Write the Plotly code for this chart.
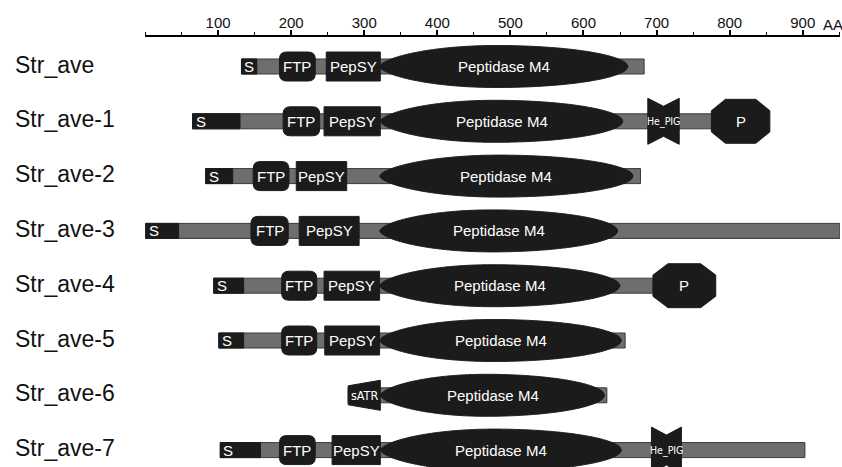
import numpy as np
import plotly.graph_objects as go

# Proteins (one per row) and their domain boundaries, in amino-acid positions
proteins = ["Str_ave", "Str_ave-1", "Str_ave-2", "Str_ave-3",
            "Str_ave-4", "Str_ave-5", "Str_ave-6", "Str_ave-7"]
chain_start = [132, 65, 83, 1, 94, 101, 278, 103]
chain_end = [683, 800, 678, 951, 710, 657, 632, 903]

signal_start = [132, 65, 83, 1, 94, 101, None, 103]
signal_end = [153, 130, 120, 46, 135, 135, None, 158]
ftp_start = [184, 189, 148, 145, 187, 187, None, 184]
ftp_end = [233, 239, 197, 196, 235, 235, None, 233]
pepsy_start = [248, 245, 207, 211, 245, 246, None, 256]
pepsy_end = [322, 322, 276, 293, 321, 321, None, 322]
m4_start = [321, 322, 321, 321, 321, 321, 322, 322]
m4_end = [661, 654, 668, 647, 650, 652, 629, 652]

he_pig_rows = [1, 7]
he_pig_start = [688, 693]
he_pig_end = [731, 734]
p_rows = [1, 4]
p_start = [775, 695]
p_end = [855, 781]
satr_rows = [6]
satr_start = [278]
satr_end = [322]

axis_ticks = [100, 200, 300, 400, 500, 600, 700, 800, 900]

# ---- layout geometry ----
W, H = 842, 467
M_L, M_R, M_T, M_B = 145, 2, 37, 0
X_MAX = 951
ROW_PX = 54.8
FIRST_ROW_PX = 66.5
px_per_aa = (W - M_L - M_R) / X_MAX
y_top = -(FIRST_ROW_PX - M_T) / ROW_PX
y_bot = y_top + (H - M_T - M_B) / ROW_PX


def dx(px):
    return px / px_per_aa


def dy(px):
    return px / ROW_PX


def path(points):
    return "M " + " L ".join(f"{x:.3f},{y:.3f}" for x, y in points) + " Z"


DARK = "#1b1b1b"
GRAY = "#6e6e6e"
EDGE = "#3a3a3a"
FONT = "Liberation Sans, Arial, sans-serif"
NARROW = "Liberation Sans Narrow, DejaVu Sans Condensed, Liberation Sans"

shapes = []
annotations = []


def label(x, y, text, size=15, family=FONT, anchor="center", xshift=0):
    annotations.append(dict(x=x, y=y, xref="x", yref="y", text=text, showarrow=False,
                            xanchor=anchor, yanchor="middle", xshift=xshift,
                            font=dict(family=family, size=size, color="white")))


def rect(x0, x1, r, hpx, fill, line=EDGE, lw=1):
    shapes.append(dict(type="rect", xref="x", yref="y", x0=x0, x1=x1,
                       y0=r - dy(hpx / 2), y1=r + dy(hpx / 2),
                       fillcolor=fill, line=dict(color=line, width=lw), layer="above"))


def rounded(x0, x1, r, hpx, rad_px):
    rx, ry = dx(rad_px), dy(rad_px)
    t, b = r - dy(hpx / 2), r + dy(hpx / 2)
    p = (f"M {x0 + rx},{t} L {x1 - rx},{t} Q {x1},{t} {x1},{t + ry} "
         f"L {x1},{b - ry} Q {x1},{b} {x1 - rx},{b} L {x0 + rx},{b} "
         f"Q {x0},{b} {x0},{b - ry} L {x0},{t + ry} Q {x0},{t} {x0 + rx},{t} Z")
    shapes.append(dict(type="path", xref="x", yref="y", path=p, fillcolor=DARK,
                       line=dict(color=DARK, width=1), layer="above"))


def lens(x0, x1, r, hpx):
    # elongated oval, a little sharper at the N-terminal tip
    u = np.linspace(0, 1, 161)
    peak = 0.47
    half = np.empty_like(u)
    left = u <= peak
    t_l = (peak - u[left]) / peak
    t_r = (u[~left] - peak) / (1 - peak)
    half[left] = (1 - t_l ** 2) ** 0.62
    half[~left] = (1 - t_r ** 2) ** 0.52
    xs = x0 + u * (x1 - x0)
    top = [(x, r - dy(hpx / 2) * h) for x, h in zip(xs, half)]
    bot = [(x, r + dy(hpx / 2) * h) for x, h in zip(xs[::-1], half[::-1])]
    shapes.append(dict(type="path", xref="x", yref="y", path=path(top + bot),
                       fillcolor=DARK, line=dict(color=DARK, width=1), layer="above"))


def notched(x0, x1, r, hpx, notch_px):
    xm = (x0 + x1) / 2
    t, b = r - dy(hpx / 2), r + dy(hpx / 2)
    n = dy(notch_px)
    pts = [(x0, t), (xm, t + n), (x1, t), (x1, b), (xm, b - n), (x0, b)]
    shapes.append(dict(type="path", xref="x", yref="y", path=path(pts),
                       fillcolor=DARK, line=dict(color=DARK, width=1), layer="above"))


def hexagon(x0, x1, r, hpx):
    w = x1 - x0
    t, b = r - dy(hpx / 2), r + dy(hpx / 2)
    s = dy(hpx * 0.24)
    pts = [(x0, r - s), (x0 + 0.24 * w, t), (x1 - 0.24 * w, t), (x1, r - s),
           (x1, r + s), (x1 - 0.24 * w, b), (x0 + 0.24 * w, b), (x0, r + s)]
    shapes.append(dict(type="path", xref="x", yref="y", path=path(pts),
                       fillcolor=DARK, line=dict(color=DARK, width=1), layer="above"))


def trapezoid(x0, x1, r, h_left_px, h_right_px):
    pts = [(x0, r - dy(h_left_px / 2)), (x1, r - dy(h_right_px / 2)),
           (x1, r + dy(h_right_px / 2)), (x0, r + dy(h_left_px / 2))]
    shapes.append(dict(type="path", xref="x", yref="y", path=path(pts),
                       fillcolor=DARK, line=dict(color=DARK, width=1), layer="above"))


for r in range(len(proteins)):
    rect(chain_start[r], chain_end[r], r, 15, GRAY)
    if signal_start[r] is not None:
        rect(signal_start[r], signal_end[r], r, 15, DARK, line=DARK)
        label(signal_start[r], r, "S", size=15, anchor="left", xshift=1)
    if ftp_start[r] is not None:
        rounded(ftp_start[r], ftp_end[r], r, 29, 7)
        label((ftp_start[r] + ftp_end[r]) / 2, r, "FTP")
    if pepsy_start[r] is not None:
        rect(pepsy_start[r], pepsy_end[r], r, 29, DARK, line=DARK)
        label((pepsy_start[r] + pepsy_end[r]) / 2, r, "PepSY")
    lens(m4_start[r], m4_end[r], r, 42)
    label((m4_start[r] + m4_end[r]) / 2, r, "Peptidase M4")

for r, a, b in zip(he_pig_rows, he_pig_start, he_pig_end):
    notched(a, b, r, 46, 8)
    label((a + b) / 2, r, "He_PIG", size=10.5, family=NARROW)

for r, a, b in zip(p_rows, p_start, p_end):
    hexagon(a, b, r, 44)
    label((a + b) / 2, r, "P")

for r, a, b in zip(satr_rows, satr_start, satr_end):
    trapezoid(a, b, r, 19, 30)
    label((a + b) / 2 + 1, r, "sATR", size=12.5, family=NARROW)

# Row names on the left
plot_w = W - M_L - M_R
for r, name in enumerate(proteins):
    annotations.append(dict(x=(13 - M_L) / plot_w, y=r, xref="paper", yref="y",
                            text=name, showarrow=False, xanchor="left",
                            yanchor="middle", yshift=2,
                            font=dict(family=FONT, size=23, color="#111")))

# Unit label at the end of the ruler
plot_h = H - M_T - M_B
annotations.append(dict(x=(821 - M_L) / plot_w, y=1 + (M_T - 24.5) / plot_h,
                        xref="paper", yref="paper", text="AA", showarrow=False,
                        xanchor="left", yanchor="middle",
                        font=dict(family=FONT, size=15, color="#111")))

fig = go.Figure()
fig.add_trace(go.Scatter(x=[None], y=[None], mode="markers", showlegend=False,
                         hoverinfo="skip"))

fig.update_layout(
    width=W, height=H,
    margin=dict(l=M_L, r=M_R, t=M_T, b=M_B, pad=0),
    paper_bgcolor="white", plot_bgcolor="white",
    shapes=shapes, annotations=annotations, showlegend=False,
    xaxis=dict(range=[0, X_MAX], side="top", showline=True, linecolor="black",
               linewidth=2, ticks="outside", ticklen=5, tickwidth=1.5,
               tickcolor="black", tickvals=axis_ticks, ticklabelstandoff=-4,
               tickfont=dict(family=FONT, size=15, color="#111"),
               minor=dict(ticks="outside", ticklen=3, tickwidth=1,
                          tickcolor="black", tick0=0, dtick=50),
               showgrid=False, zeroline=False, fixedrange=True),
    yaxis=dict(range=[y_bot, y_top], visible=False, fixedrange=True),
)

fig.write_html("out.html")
